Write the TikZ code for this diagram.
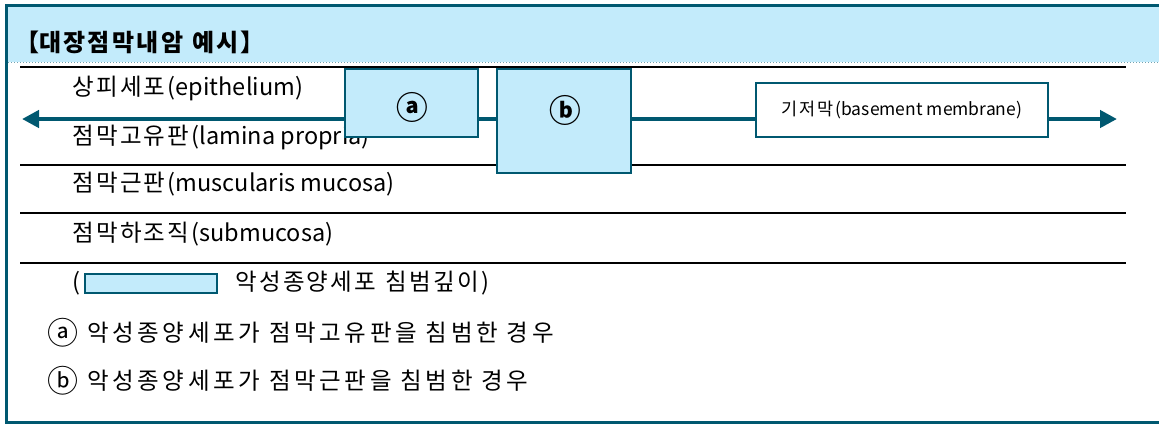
\documentclass[tikz,border=0pt]{standalone}
\usepackage{fontspec}
\setmainfont{Noto Sans CJK KR}
\usetikzlibrary{arrows.meta}
\definecolor{teal1}{RGB}{0,88,112}
\definecolor{lblue}{RGB}{195,235,251}
\tikzset{bmtip/.tip={Triangle[length=17pt,width=17pt]}}
% extra tracking between Hangul syllables
\XeTeXinterchartokenstate=1
\newXeTeXintercharclass\hangulclass
\count255="AC00
\loop \XeTeXcharclass\count255=\hangulclass \ifnum\count255<"D7A3 \advance\count255 by 1 \repeat
\newdimen\hgap
\hgap=2.3pt
\XeTeXinterchartoks\hangulclass\hangulclass={\kern\hgap}
\XeTeXinterchartoks\hangulclass 0={\kern\hgap}
\newcommand\mycirc[1]{\raisebox{-0.12em}{\scalebox{1.32}{#1}}}
\newcommand\notesetup{\hgap=3.6pt\relax\spaceskip=9pt\relax}
\begin{document}
\begin{tikzpicture}[x=1pt,y=-1pt,
  layer/.style={line width=2pt, black},
  txt/.style={anchor=west, inner sep=0pt, font=\fontsize{23.5}{28}\selectfont},
  tumor/.style={draw=teal1, fill=lblue, line width=2.5pt, inner sep=0pt},
  circ/.style={inner sep=0pt, font=\fontsize{24}{28}\selectfont\bfseries},
  bm/.style={draw=teal1, fill=white, line width=2.5pt, inner sep=0pt, font=\fontsize{17.5}{20}\selectfont}]
\useasboundingbox (0,0) rectangle (1159,424);
% header
\fill[lblue] (8,7) rectangle (1159,62);
\draw[teal1!55, dotted, line width=1pt] (8,62) -- (1159,62);
\draw[teal1, line width=3pt] (1159,5.5) -- (6.5,5.5) -- (6.5,422.5) -- (1159,422.5);
\node[anchor=west, inner sep=0pt, font=\fontsize{24}{28}\selectfont\bfseries] (title) at (15,42) {\spaceskip=9pt\relax 【대장점막내암 예시】};
% layer lines
\foreach \yy in {67,165,213,263} \draw[layer] (20,\yy) -- (1126,\yy);
% layer names
\node[txt] (epi) at (72,88) {상피세포(epithelium)};
\node[txt] (lam) at (72,137) {점막고유판(lamina propria)};
\node[txt] (mus) at (72,184) {점막근판(muscularis mucosa)};
\node[txt] (sub) at (72,234) {점막하조직(submucosa)};
% basement membrane arrow
\coordinate (L) at (22,119);
\coordinate (R) at (1117,119);
\draw[teal1, line width=4.5pt, {bmtip}-{bmtip}] (L) -- (R);
% tumor boxes
\node[tumor, minimum width=133pt, minimum height=68pt] (boxa) at (411.5,103) {};
\node[circ] (la) at (412,107) {\mycirc{ⓐ}};
\node[tumor, minimum width=134pt, minimum height=104pt] (boxb) at (564,121) {};
\node[circ] (lb) at (565,110) {\mycirc{ⓑ}};
\node[bm, minimum width=292pt, minimum height=54pt] (bmbox) at (902,110) {\hgap=1.8pt\relax 기저막(basement membrane)};
% legend
\node[txt] (lp) at (72,283) {(};
\node[tumor, minimum width=132pt, minimum height=19pt] (leg) at (151,283.5) {};
\node[txt] (legt) at (235,283) {\spaceskip=9pt\relax 악성종양세포 침범깊이)};
% notes
\node[txt] (na) at (47,333) {\notesetup\mycirc{ⓐ} 악성종양세포가 점막고유판을 침범한 경우};
\node[txt] (nb) at (47,381) {\notesetup\mycirc{ⓑ} 악성종양세포가 점막근판을 침범한 경우};
\end{tikzpicture}
\end{document}
